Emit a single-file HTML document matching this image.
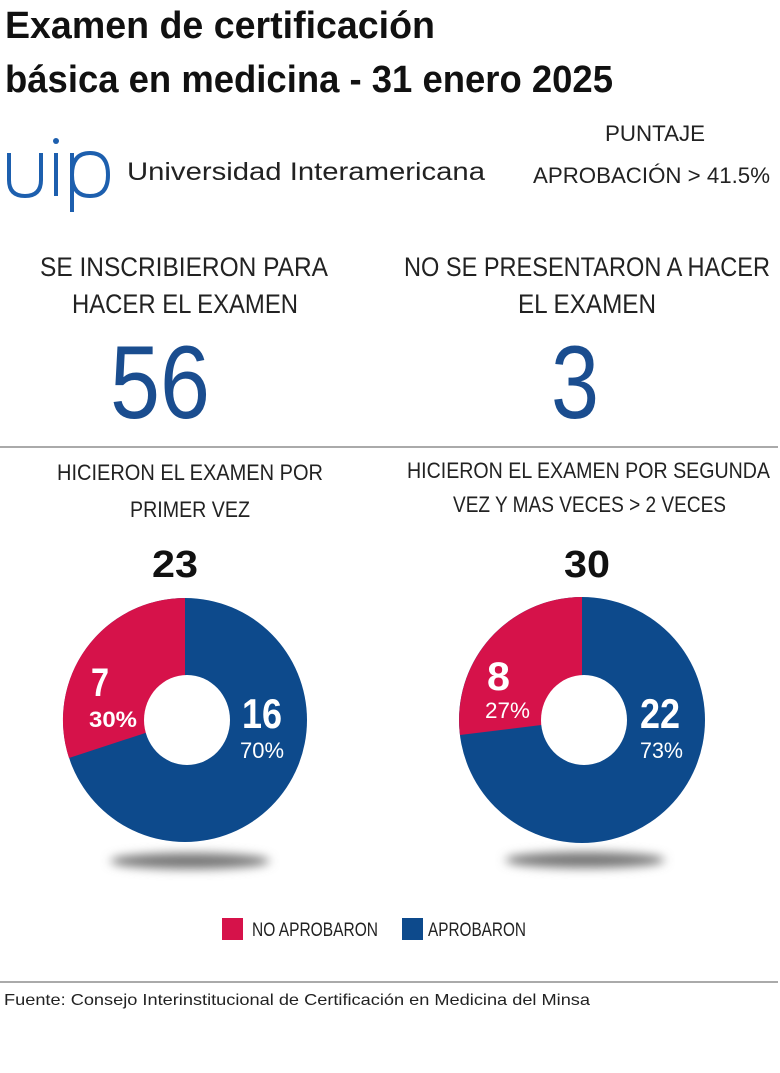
<!DOCTYPE html>
<html><head><meta charset="utf-8"><style>
html,body{margin:0;padding:0;background:#fff;}
svg{display:block;}
text{font-family:"Liberation Sans",sans-serif;}
</style></head><body>
<svg width="780" height="1073" viewBox="0 0 780 1073" xmlns="http://www.w3.org/2000/svg">
<defs>
<filter id="blur" x="-50%" y="-200%" width="200%" height="500%"><feGaussianBlur stdDeviation="5"/></filter>
</defs>
<g fill="#111" font-weight="bold">
<text x="5" y="38" font-size="38" textLength="430" lengthAdjust="spacingAndGlyphs">Examen de certificación</text>
<text x="5" y="92" font-size="38" textLength="608" lengthAdjust="spacingAndGlyphs">básica en medicina - 31 enero 2025</text>
</g>
<g fill="none" stroke="#1d5fae" stroke-width="4">
<path d="M9,153 L9,180 Q9,196 25,196 Q41,196 41,180 L41,153"/>
<line x1="56" y1="153" x2="56" y2="196"/>
<line x1="72" y1="153" x2="72" y2="212"/>
<path d="M72,175 Q72,153 90,153 Q108,153 108,175 Q108,196 90,196 Q72,196 72,175"/>
</g>
<circle cx="56" cy="141" r="3" fill="#1d5fae"/>
<text x="127" y="180" font-size="25" fill="#222" textLength="358" lengthAdjust="spacingAndGlyphs">Universidad Interamericana</text>
<text x="655" y="141" font-size="22" fill="#222" text-anchor="middle" textLength="100" lengthAdjust="spacingAndGlyphs">PUNTAJE</text>
<text x="533" y="183" font-size="22" fill="#222" textLength="237" lengthAdjust="spacingAndGlyphs">APROBACIÓN &gt; 41.5%</text>
<g fill="#222" font-size="27">
<text x="40" y="276" textLength="288" lengthAdjust="spacingAndGlyphs">SE INSCRIBIERON PARA</text>
<text x="72" y="313" textLength="226" lengthAdjust="spacingAndGlyphs">HACER EL EXAMEN</text>
<text x="404" y="276" textLength="366" lengthAdjust="spacingAndGlyphs">NO SE PRESENTARON A HACER</text>
<text x="518" y="313" textLength="138" lengthAdjust="spacingAndGlyphs">EL EXAMEN</text>
</g>
<g fill="#1a4d8f" font-size="104">
<text x="160" y="418" text-anchor="middle" textLength="100" lengthAdjust="spacingAndGlyphs">56</text>
<text x="575" y="418" text-anchor="middle" textLength="48" lengthAdjust="spacingAndGlyphs">3</text>
</g>
<line x1="0" y1="447" x2="778" y2="447" stroke="#aaa" stroke-width="2"/>
<g fill="#222" font-size="22">
<text x="57" y="480" textLength="266" lengthAdjust="spacingAndGlyphs">HICIERON EL EXAMEN POR</text>
<text x="130" y="517" textLength="120" lengthAdjust="spacingAndGlyphs">PRIMER VEZ</text>
<text x="407" y="478" textLength="363" lengthAdjust="spacingAndGlyphs">HICIERON EL EXAMEN POR SEGUNDA</text>
<text x="453" y="512" textLength="273" lengthAdjust="spacingAndGlyphs">VEZ Y MAS VECES &gt; 2 VECES</text>
</g>
<g fill="#111" font-size="38" font-weight="bold">
<text x="175" y="577" text-anchor="middle" textLength="46" lengthAdjust="spacingAndGlyphs">23</text>
<text x="587" y="577" text-anchor="middle" textLength="46" lengthAdjust="spacingAndGlyphs">30</text>
</g>
<ellipse cx="190" cy="861" rx="80" ry="8" fill="#777" filter="url(#blur)"/>
<ellipse cx="585" cy="860" rx="80" ry="8" fill="#777" filter="url(#blur)"/>
<circle cx="185" cy="720" r="122" fill="#0d4a8c"/>
<path d="M185,720 L185,598 A122,122 0 0 0 69,758 Z" fill="#d6124a"/>
<ellipse cx="187" cy="720" rx="43" ry="45" fill="#fff"/>
<circle cx="582" cy="720" r="123" fill="#0d4a8c"/>
<path d="M582,720 L582,597 A123,123 0 0 0 460,735 Z" fill="#d6124a"/>
<ellipse cx="584" cy="720" rx="43" ry="45" fill="#fff"/>
<g fill="#fff" font-weight="bold">
<text x="91" y="696" font-size="40" textLength="18" lengthAdjust="spacingAndGlyphs">7</text>
<text x="89" y="727" font-size="22" textLength="48" lengthAdjust="spacingAndGlyphs">30%</text>
<text x="242" y="728" font-size="42" textLength="40" lengthAdjust="spacingAndGlyphs">16</text>
<text x="240" y="758" font-size="22" font-weight="normal" textLength="44" lengthAdjust="spacingAndGlyphs">70%</text>
<text x="487" y="690" font-size="40" textLength="23" lengthAdjust="spacingAndGlyphs">8</text>
<text x="485" y="718" font-size="22" font-weight="normal" textLength="45" lengthAdjust="spacingAndGlyphs">27%</text>
<text x="640" y="728" font-size="42" textLength="40" lengthAdjust="spacingAndGlyphs">22</text>
<text x="640" y="758" font-size="22" font-weight="normal" textLength="43" lengthAdjust="spacingAndGlyphs">73%</text>
</g>
<rect x="222" y="918" width="21" height="22" fill="#d6124a"/>
<text x="252" y="936" font-size="19" fill="#222" textLength="126" lengthAdjust="spacingAndGlyphs">NO APROBARON</text>
<rect x="402" y="918" width="21" height="22" fill="#0d4a8c"/>
<text x="428" y="936" font-size="19" fill="#222" textLength="98" lengthAdjust="spacingAndGlyphs">APROBARON</text>
<line x1="0" y1="982" x2="778" y2="982" stroke="#aaa" stroke-width="2"/>
<text x="4" y="1005" font-size="16" fill="#222" textLength="586" lengthAdjust="spacingAndGlyphs">Fuente: Consejo Interinstitucional de Certificación en Medicina del Minsa</text>
</svg>
</body></html>
